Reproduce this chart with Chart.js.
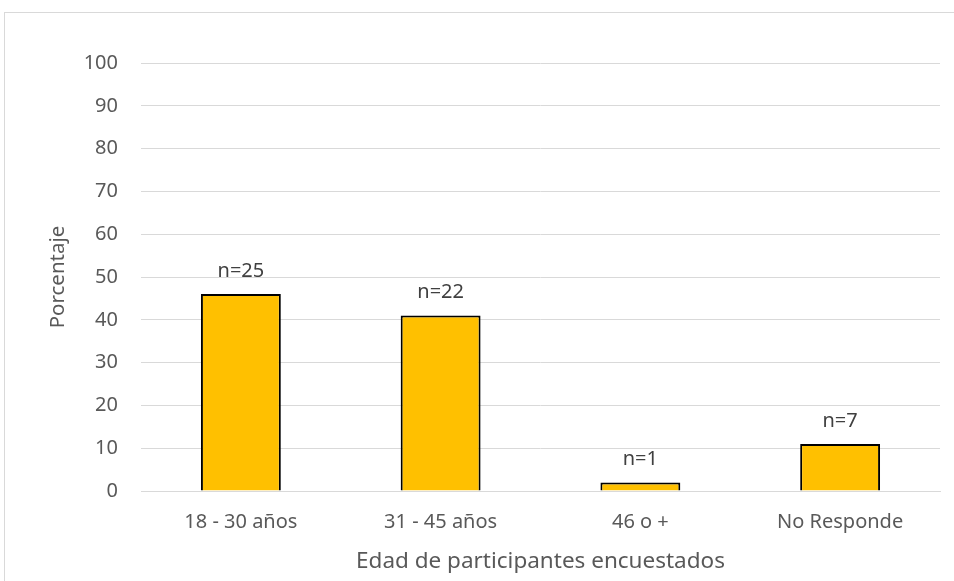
<!DOCTYPE html>
<html>
<head>
<meta charset="utf-8">
<script src="https://cdn.jsdelivr.net/npm/chart.js@4"></script>
<style>
  html, body { margin: 0; padding: 0; background: #fff; overflow: hidden; }
  #frame { position: absolute; left: 4px; top: 12px; width: 1000px; height: 600px; border: 1px solid #d9d9d9; }
  #wrap { position: absolute; left: 0; top: 0; width: 954px; height: 581px; }
</style>
</head>
<body>
<div id="frame"></div>
<div id="wrap"><canvas id="chart" width="954" height="581"></canvas></div>
<script>
// chart data
const categories = ["18 - 30 años", "31 - 45 años", "46 o +", "No Responde"];
const percentages = [46, 41, 2, 11];
const counts = ["n=25", "n=22", "n=1", "n=7"];
const yTicks = [0, 10, 20, 30, 40, 50, 60, 70, 80, 90, 100];

const FONT = "'Noto Sans', sans-serif";

// draws the n= labels above each bar
const countLabels = {
  id: "countLabels",
  afterDatasetsDraw(chart) {
    const ctx = chart.ctx;
    const meta = chart.getDatasetMeta(0);
    ctx.save();
    ctx.font = "20px " + FONT;
    ctx.fillStyle = "#404040";
    ctx.textAlign = "center";
    ctx.textBaseline = "middle";
    meta.data.forEach((bar, i) => {
      ctx.fillText(counts[i], bar.x, bar.y - 23);
    });
    ctx.restore();
  }
};

new Chart(document.getElementById("chart").getContext("2d"), {
  type: "bar",
  data: {
    labels: categories,
    datasets: [{
      data: percentages,
      backgroundColor: "#FFC000",
      borderColor: "#000000",
      borderWidth: 2,
      barPercentage: 0.4,
      categoryPercentage: 1.0
    }]
  },
  options: {
    responsive: false,
    animation: false,
    layout: { padding: { left: 0, top: 63, right: 14, bottom: 0 } },
    plugins: { legend: { display: false }, tooltip: { enabled: false } },
    scales: {
      x: {
        grid: { display: false, drawTicks: false },
        border: { display: true, color: "#d9d9d9", width: 1 },
        ticks: { color: "#595959", font: { family: FONT, size: 20 }, padding: 19 },
        title: {
          display: true,
          text: "Edad de participantes encuestados",
          color: "#595959",
          font: { family: FONT, size: 22.5 },
          padding: { top: 0, bottom: 5.5 }
        },
        afterFit(scale) { scale.height = 90; }
      },
      y: {
        min: 0,
        max: 100,
        afterBuildTicks(scale) { scale.ticks = yTicks.map(v => ({ value: v })); },
        grid: { color: "#d9d9d9", lineWidth: 1, drawTicks: false },
        border: { display: false },
        ticks: { color: "#595959", font: { family: FONT, size: 20 }, padding: 23 },
        title: {
          display: true,
          text: "Porcentaje",
          color: "#595959",
          font: { family: FONT, size: 20.5 },
          padding: { top: 46, bottom: 0 }
        },
        afterFit(scale) { scale.width = 141; }
      }
    }
  },
  plugins: [countLabels]
});
</script>
</body>
</html>
